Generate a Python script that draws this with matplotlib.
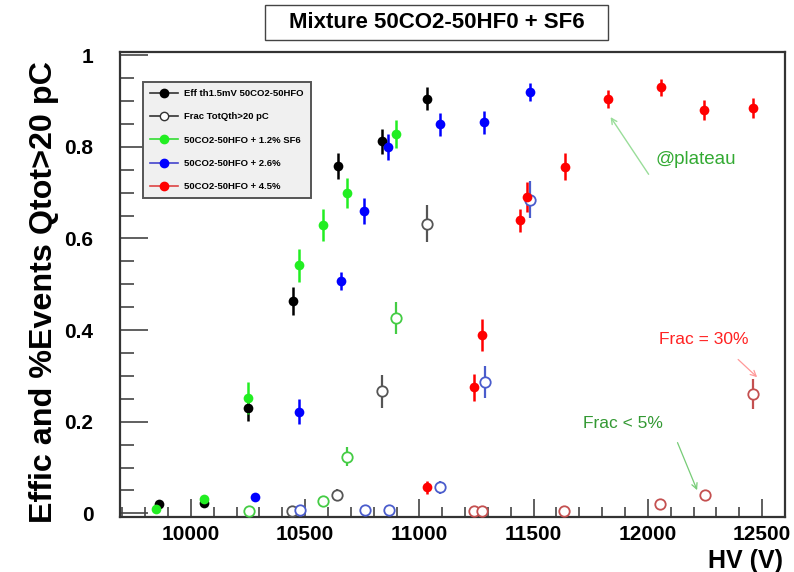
import matplotlib
matplotlib.use("Agg")
import matplotlib.pyplot as plt
from matplotlib.lines import Line2D
from matplotlib.patches import Rectangle
from matplotlib.ticker import MultipleLocator

plt.rcParams['font.family'] = ['Liberation Sans', 'DejaVu Sans']

# ---- data ----
black_eff_hv = [9860, 10057, 10250, 10447, 10645, 10838, 11035]
black_eff = [0.020, 0.022, 0.231, 0.463, 0.758, 0.812, 0.905]
black_eff_err = [0.006, 0.006, 0.030, 0.030, 0.028, 0.028, 0.025]

black_frac_hv = [10443, 10640, 10838, 11035]
black_frac = [0.006, 0.041, 0.266, 0.632]
black_frac_err = [0.004, 0.012, 0.035, 0.040]

green_eff_hv = [9846, 10057, 10252, 10474, 10579, 10684, 10899]
green_eff = [0.010, 0.031, 0.251, 0.541, 0.630, 0.700, 0.828]
green_eff_err = [0.006, 0.008, 0.035, 0.035, 0.035, 0.033, 0.030]

green_frac_hv = [10254, 10578, 10684, 10899]
green_frac = [0.006, 0.026, 0.124, 0.426]
green_frac_err = [0.004, 0.008, 0.020, 0.035]

blue_eff_hv = [10281, 10474, 10658, 10759, 10864, 11092, 11285, 11482]
blue_eff = [0.036, 0.222, 0.507, 0.660, 0.800, 0.849, 0.854, 0.919]
blue_eff_err = [0.008, 0.028, 0.020, 0.028, 0.028, 0.025, 0.025, 0.020]

blue_frac_hv = [10478, 10763, 10868, 11092, 11289, 11482]
blue_frac = [0.007, 0.007, 0.007, 0.057, 0.286, 0.685]
blue_frac_err = [0.004, 0.004, 0.004, 0.014, 0.035, 0.040]

red_eff_hv = [11035, 11241, 11272, 11439, 11469, 11636, 11825, 12057, 12246, 12461]
red_eff = [0.057, 0.275, 0.390, 0.640, 0.690, 0.757, 0.905, 0.930, 0.880, 0.884]
red_eff_err = [0.014, 0.030, 0.035, 0.025, 0.033, 0.030, 0.020, 0.018, 0.022, 0.022]

red_frac_hv = [11241, 11272, 11633, 12054, 12250, 12461]
red_frac = [0.005, 0.005, 0.006, 0.021, 0.041, 0.260]
red_frac_err = [0.003, 0.003, 0.004, 0.006, 0.008, 0.033]

legend_labels = ["Eff th1.5mV 50CO2-50HFO", "Frac TotQth>20 pC",
                 "50CO2-50HFO + 1.2% SF6", "50CO2-50HFO + 2.6%", "50CO2-50HFO + 4.5%"]

# ---- figure ----
W, H = 794, 572
fig = plt.figure(figsize=(W / 100, H / 100), dpi=100)
ax = fig.add_axes([120 / W, 55 / H, 665 / W, 465 / H])

def filled(hv, y, err, color):
    ax.errorbar(hv, y, yerr=err, fmt='o', color=color, ms=7, elinewidth=1.8,
                capsize=0, markeredgewidth=0, zorder=3)

def opened(hv, y, err, color):
    ax.errorbar(hv, y, yerr=err, fmt='o', color=color, ms=7.5, elinewidth=1.6,
                capsize=0, mfc='white', markeredgewidth=1.3, zorder=3)

opened(black_frac_hv, black_frac, black_frac_err, '#555555')
opened(green_frac_hv, green_frac, green_frac_err, '#44cc44')
opened(blue_frac_hv, blue_frac, blue_frac_err, '#4a5ccc')
opened(red_frac_hv, red_frac, red_frac_err, '#c45050')
filled(black_eff_hv, black_eff, black_eff_err, '#000000')
filled(green_eff_hv, green_eff, green_eff_err, '#22ee22')
filled(blue_eff_hv, blue_eff, blue_eff_err, '#0000ff')
filled(red_eff_hv, red_eff, red_eff_err, '#ff0000')

ax.set_xlim(9690, 12600)
ax.set_ylim(-0.008, 1.007)

ax.xaxis.set_major_locator(MultipleLocator(500))
ax.xaxis.set_minor_locator(MultipleLocator(100))
ax.yaxis.set_minor_locator(MultipleLocator(0.05))
ax.set_yticks([0, 0.2, 0.4, 0.6, 0.8, 1.0])
ax.set_yticklabels(['0', '0.2', '0.4', '0.6', '0.8', '1'])
ax.tick_params(which='both', direction='in', top=False, right=False,
               color='#444444', width=1.2)
ax.tick_params(axis='y', which='major', length=20, labelsize=15, pad=19)
ax.tick_params(axis='y', which='minor', length=10)
ax.tick_params(axis='x', which='major', length=13, labelsize=15, pad=6)
ax.tick_params(axis='x', which='minor', length=7)
for lab in ax.get_xticklabels() + ax.get_yticklabels():
    lab.set_fontweight('bold')
for sp in ax.spines.values():
    sp.set_color('#333333')
    sp.set_linewidth(1.6)

fig.text(44 / W, 1 - 292 / H, "Effic and %Events Qtot>20 pC", rotation=90,
         fontsize=23.2, fontweight='bold', ha='center', va='center')
fig.text(783 / W, 1 - 561 / H, "HV (V)", fontsize=18, fontweight='bold',
         ha='right', va='center')

# title box
fig.patches.append(Rectangle((265 / W, 1 - 40 / H), 343 / W, 35 / H,
                             transform=fig.transFigure, fc='white',
                             ec='#444444', lw=1.0))
fig.text(437 / W, 1 - 22.5 / H, "Mixture 50CO2-50HF0 + SF6", fontsize=16,
         fontweight='bold', ha='center', va='center')

# legend
handles = [
    Line2D([0], [0], color='#333333', lw=1.2, marker='o', ms=6, mfc='black', mec='black'),
    Line2D([0], [0], color='#333333', lw=1.2, marker='o', ms=6, mfc='white', mec='#333333'),
    Line2D([0], [0], color='#33dd33', lw=1.2, marker='o', ms=6, mfc='#22ee22', mec='#22ee22'),
    Line2D([0], [0], color='#4444cc', lw=1.2, marker='o', ms=6, mfc='#0000ff', mec='#0000ff'),
    Line2D([0], [0], color='#dd4444', lw=1.2, marker='o', ms=6, mfc='#ff0000', mec='#ff0000'),
]
leg = ax.legend(handles, legend_labels, loc='upper left',
                bbox_to_anchor=(0.028, 0.946), prop={'size': 6.8, 'weight': 'bold'},
                frameon=True, fancybox=False, handlelength=2.9, labelspacing=1.52,
                borderpad=0.75, handletextpad=0.7)
leg.get_frame().set_facecolor('#f0f0f0')
leg.get_frame().set_edgecolor('#555555')
leg.get_frame().set_linewidth(1.4)
leg.get_frame().set_alpha(1)

# annotations (data coords)
ax.annotate("", xy=(11830, 0.870), xytext=(12010, 0.735),
            arrowprops=dict(arrowstyle='->', color='#99dd99', lw=1.0))
ax.text(12035, 0.773, "@plateau", color='#33aa33', fontsize=13.5, ha='left', va='center')

ax.text(12050, 0.380, "Frac = 30%", color='#ff2222', fontsize=12.5, ha='left', va='center')
ax.annotate("", xy=(12487, 0.293), xytext=(12386, 0.340),
            arrowprops=dict(arrowstyle='->', color='#ff9999', lw=0.9))

ax.text(11715, 0.196, "Frac < 5%", color='#339933', fontsize=12.5, ha='left', va='center')
ax.annotate("", xy=(12220, 0.045), xytext=(12125, 0.160),
            arrowprops=dict(arrowstyle='->', color='#77cc77', lw=0.9))

fig.savefig("out.png", dpi=100)
